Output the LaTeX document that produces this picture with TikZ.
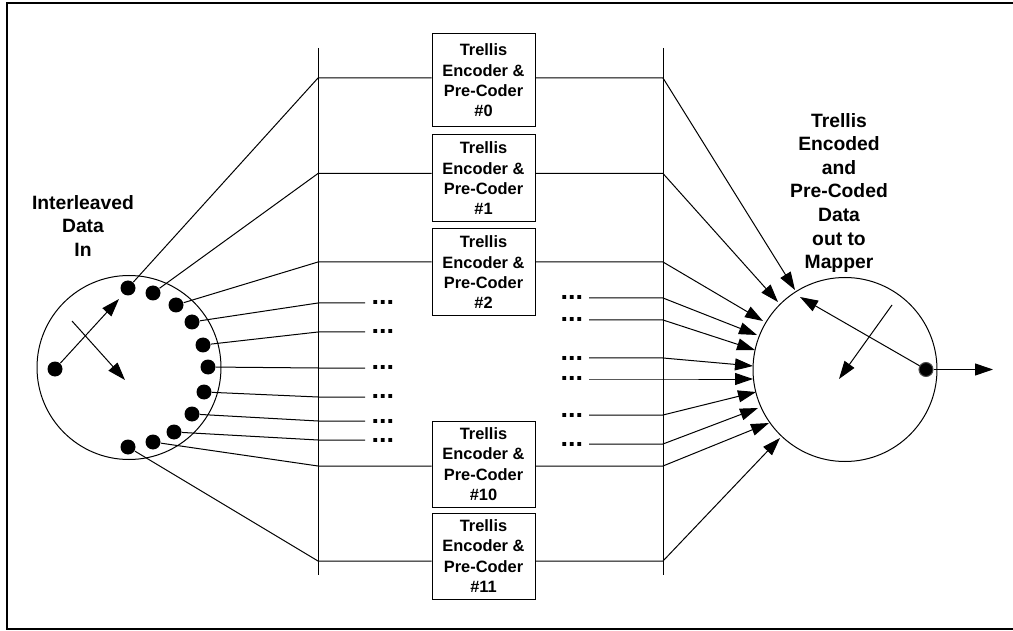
\documentclass[tikz,border=0pt]{standalone}
\usepackage{fontspec}
\setmainfont{Liberation Sans}
\usetikzlibrary{arrows.meta}
\begin{document}
\begin{tikzpicture}[x=1pt,y=-1pt, line width=1pt,
  tip/.style={-{Triangle[length=18pt,width=12pt]}},
  dot/.style={circle,fill=black,minimum size=15pt,inner sep=0pt},
  ring/.style={circle,draw,line width=1pt,minimum size=184pt,inner sep=0pt},
  enc/.style={draw,line width=1pt,minimum width=103pt,inner sep=0pt,align=center,font=\fontsize{16.4}{20.3}\selectfont\bfseries},
  lab/.style={align=center,font=\fontsize{19.3}{23.6}\selectfont\bfseries},
  ell/.style={inner sep=0pt,anchor=west,text height=4pt,text depth=0pt,font=\fontsize{27}{27}\selectfont\bfseries}]
\useasboundingbox (0,0) rectangle (1013,631);
\draw[line width=2.2pt] (7,3) rectangle (1022,629);

% labels
\node[lab] (lin) at (83,226) {Interleaved\\Data\\In};
\node[lab] (lout) at (839,193) {Trellis\\Encoded\\and\\Pre-Coded\\Data\\out to\\Mapper};

% circles
\node[ring] (cin) at (129,367.5) {};
\node[ring] (cout) at (845,369.5) {};

% bus lines
\coordinate (blt) at (318,48);  \coordinate (blb) at (318,575);
\coordinate (brt) at (663,48);  \coordinate (brb) at (663,575);
\draw (blt) -- (blb);
\draw (brt) -- (brb);

% encoder boxes
\node[enc,minimum height=93pt] (b0) at (483.5,80.5) {Trellis\\Encoder \&\\Pre-Coder\\\#0};
\node[enc,minimum height=87pt] (b1) at (483.5,178.5) {Trellis\\Encoder \&\\Pre-Coder\\\#1};
\node[enc,minimum height=87pt] (b2) at (483.5,272.5) {Trellis\\Encoder \&\\Pre-Coder\\\#2};
\node[enc,minimum height=86pt] (b10) at (483.5,464) {Trellis\\Encoder \&\\Pre-Coder\\\#10};
\node[enc,minimum height=86pt] (b11) at (483.5,556) {Trellis\\Encoder \&\\Pre-Coder\\\#11};

% input dots
\node[dot] (din) at (55,369) {};
\node[dot] (d0) at (128,288) {};
\node[dot] (d1) at (153,293) {};
\node[dot] (d2) at (176,305) {};
\node[dot] (d3) at (192,322) {};
\node[dot] (d4) at (203,345) {};
\node[dot] (d5) at (208,367) {};
\node[dot] (d6) at (204,392) {};
\node[dot] (d7) at (192,414) {};
\node[dot] (d8) at (174,432) {};
\node[dot] (d9) at (153,442) {};
\node[dot] (d10) at (128,447) {};

% left bus points
\coordinate (a0) at (318,78);
\coordinate (a1) at (318,173.5);
\coordinate (a2) at (318,262);
\coordinate (a3) at (318,303);
\coordinate (a4) at (318,332);
\coordinate (a5) at (318,368);
\coordinate (a6) at (318,397);
\coordinate (a7) at (318,421);
\coordinate (a8) at (318,440);
\coordinate (a9) at (318,466);
\coordinate (a10) at (318,561);

% left ellipses
\node[ell] (e3) at (371,303) {...};
\node[ell] (e4) at (371,332) {...};
\node[ell] (e5) at (371,368) {...};
\node[ell] (e6) at (371,397) {...};
\node[ell] (e7) at (371,421) {...};
\node[ell] (e8) at (371,440) {...};

\draw (d0) -- (a0) -- (a0 -| b0.west);
\draw (d1) -- (a1) -- (a1 -| b1.west);
\draw (d2) -- (a2) -- (a2 -| b2.west);
\draw (d3) -- (a3) -- ([xshift=-6pt]e3.west);
\draw (d4) -- (a4) -- ([xshift=-6pt]e4.west);
\draw (d5) -- (a5) -- ([xshift=-6pt]e5.west);
\draw (d6) -- (a6) -- ([xshift=-6pt]e6.west);
\draw (d7) -- (a7) -- ([xshift=-6pt]e7.west);
\draw (d8) -- (a8) -- ([xshift=-6pt]e8.west);
\draw (d9) -- (a9) -- (a9 -| b10.west);
\draw (d10) -- (a10) -- (a10 -| b11.west);

% right bus points
\coordinate (r0) at (663,78);
\coordinate (r1) at (663,173.5);
\coordinate (r2) at (663,262);
\coordinate (r3) at (663,298);
\coordinate (r4) at (663,320);
\coordinate (r5) at (663,358);
\coordinate (r6) at (663,379);
\coordinate (r7) at (663,415);
\coordinate (r8) at (663,444);
\coordinate (r9) at (663,466);
\coordinate (r10) at (663,561);

% right ellipses
\node[ell] (f3) at (560,298) {...};
\node[ell] (f4) at (560,320) {...};
\node[ell] (f5) at (560,358) {...};
\node[ell] (f6) at (560,379) {...};
\node[ell] (f7) at (560,415) {...};
\node[ell] (f8) at (560,444) {...};

% arrow tips on the output circle
\coordinate (t0) at (795,290);
\coordinate (t1) at (778,302);
\coordinate (t2) at (763,321);
\coordinate (t3) at (757,335);
\coordinate (t4) at (755,350);
\coordinate (t5) at (753,366);
\coordinate (t6) at (753,379);
\coordinate (t7) at (756,392);
\coordinate (t8) at (758,408);
\coordinate (t9) at (769,423);
\coordinate (t10) at (780,438);

\draw[tip] (b0.east |- r0) -- (r0) -- (t0);
\draw[tip] (b1.east |- r1) -- (r1) -- (t1);
\draw[tip] (b2.east |- r2) -- (r2) -- (t2);
\draw[tip] ([xshift=29pt]f3.west) -- (r3) -- (t3);
\draw[tip] ([xshift=29pt]f4.west) -- (r4) -- (t4);
\draw[tip] ([xshift=29pt]f5.west) -- (r5) -- (t5);
\draw[tip] ([xshift=29pt]f6.west) -- (r6) -- (t6);
\draw[tip] ([xshift=29pt]f7.west) -- (r7) -- (t7);
\draw[tip] ([xshift=29pt]f8.west) -- (r8) -- (t8);
\draw[tip] (b10.east |- r9) -- (r9) -- (t9);
\draw[tip] (b11.east |- r10) -- (r10) -- (t10);

% inner arrows, input circle
\coordinate (ia) at (119,299);
\coordinate (ib0) at (72,321);
\coordinate (ib1) at (125,380);
\draw[tip] (din) -- (ia);
\draw[tip] (ib0) -- (ib1);

% output dot and inner arrows
\node[dot,draw=black!70,line width=1pt,minimum size=14pt] (dout) at (926,369.5) {};
\coordinate (oa) at (800,297);
\coordinate (ob0) at (892,305);
\coordinate (ob1) at (839,379);
\coordinate (oo) at (993,369.5);
\draw[tip] (dout) -- (oa);
\draw[tip] (ob0) -- (ob1);
\draw[tip] (dout) -- (oo);
\end{tikzpicture}
\end{document}
